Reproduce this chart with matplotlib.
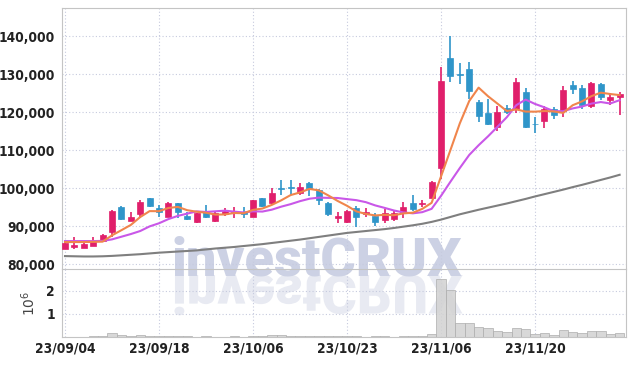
import matplotlib
matplotlib.use("Agg")
import matplotlib.pyplot as plt
import numpy as np
from matplotlib import font_manager
from matplotlib.textpath import TextPath
from matplotlib.font_manager import FontProperties
from matplotlib.patches import PathPatch
from matplotlib.transforms import Affine2D, IdentityTransform
from matplotlib.ticker import FuncFormatter

# daily candles 23/09/04 .. 23/12/01
opens = [84000, 84500, 84300, 84800, 86200, 88500, 95100, 91400, 93100, 97300,
         94800, 92500, 96000, 92600, 91200, 93800, 91400, 93100, 93400, 93800,
         92500, 97300, 96200, 100000, 100200, 98800, 101300, 99500, 96200, 92100,
         91200, 94700, 93100, 92700, 91600, 91800, 93500, 96000, 95700, 97500,
         105400, 134200, 130000, 131300, 122700, 119800, 116050, 121000, 120700, 125300,
         117000, 117700, 120700, 120200, 127100, 126300, 121700, 127400, 123150, 123900]
highs = [85800, 87000, 86100, 87200, 87900, 94200, 95400, 93600, 96900, 97400,
         95500, 96300, 96100, 93800, 93500, 95500, 93900, 94700, 95000, 95100,
         96900, 97500, 99900, 102000, 102100, 101300, 101700, 99700, 96400, 93800,
         94200, 95400, 94800, 93500, 94400, 94000, 96400, 98200, 96900, 101900,
         131900, 140000, 132800, 133200, 123300, 123350, 121600, 121900, 129100, 126400,
         118600, 121600, 121400, 126950, 128300, 127100, 128000, 127600, 125000, 125400]
lows = [83900, 83900, 84200, 84700, 86000, 87200, 91600, 91300, 92200, 95000,
        92500, 92300, 92000, 91600, 90900, 92000, 91200, 92700, 92000, 92000,
        92300, 94900, 95900, 98200, 98100, 98200, 97900, 95600, 92700, 90900,
        90900, 89800, 92500, 90000, 90700, 91300, 92000, 94000, 95000, 97300,
        102300, 127800, 127400, 123350, 117350, 116500, 115100, 119500, 119700, 115700,
        114500, 115700, 118100, 118800, 124800, 120700, 121000, 123150, 122000, 119200]
closes = [85600, 85000, 85400, 85900, 87600, 93900, 91800, 92300, 96300, 95400,
          93800, 96000, 93800, 91900, 93400, 92500, 93500, 94000, 93800, 93100,
          96900, 95300, 98800, 99800, 100000, 100400, 99900, 96900, 93200, 92700,
          94000, 92500, 93600, 91200, 93500, 93500, 94900, 94500, 96200, 101500,
          128200, 129600, 129700, 125600, 119000, 116900, 120100, 119900, 127900, 116200,
          116750, 120700, 119300, 125800, 126200, 121900, 127600, 124000, 124000, 124750]

# volume in millions
volume_m = [0.01, 0.01, 0.02, 0.04, 0.05, 0.16, 0.09, 0.05, 0.09, 0.05,
            0.03, 0.03, 0.03, 0.03, 0.02, 0.04, 0.02, 0.02, 0.04, 0.02,
            0.04, 0.04, 0.09, 0.08, 0.04, 0.04, 0.04, 0.04, 0.04, 0.04,
            0.04, 0.04, 0.02, 0.04, 0.04, 0.02, 0.04, 0.04, 0.04, 0.13,
            2.53, 2.02, 0.60, 0.60, 0.42, 0.38, 0.24, 0.20, 0.38, 0.33,
            0.12, 0.16, 0.08, 0.30, 0.20, 0.16, 0.25, 0.25, 0.12, 0.16]

# moving averages
ma5 = [85800, 85800, 85800, 85850, 85900, 87560, 88920, 90300, 92380, 93940,
       93920, 94760, 95060, 94180, 93780, 93520, 93020, 93060, 93440, 93380,
       94260, 94620, 95580, 96780, 98160, 98860, 99780, 99400, 98080, 96620,
       95340, 93860, 93200, 92800, 92960, 92860, 93340, 93520, 94520, 96120,
       103060, 110000, 117040, 122920, 126440, 124180, 122240, 120280, 120720, 120140,
       120120, 120280, 120180, 119780, 121800, 122820, 124200, 125120, 124760, 124480]
ma10 = [86050, 86050, 86050, 86050, 86100, 86500, 87200, 87900, 88700, 89920,
        90740, 91840, 92680, 93280, 93860, 93720, 93890, 94060, 93810, 93580,
        93890, 93820, 94320, 95110, 95770, 96560, 97200, 97490, 97430, 97390,
        97100, 96820, 96300, 95440, 94790, 94100, 93600, 93360, 93660, 94540,
        97960, 101670, 105280, 108720, 111280, 113620, 116120, 118660, 121820, 123290,
        122150, 121260, 120230, 120250, 120970, 121470, 122240, 122650, 122270, 123140]
ma60 = [82100, 82050, 82000, 82000, 82050, 82150, 82300, 82450, 82600, 82800,
        83000, 83150, 83300, 83450, 83600, 83850, 84100, 84300, 84500, 84750,
        85000, 85250, 85550, 85850, 86150, 86450, 86800, 87150, 87500, 87850,
        88200, 88450, 88700, 88950, 89200, 89500, 89850, 90200, 90600, 91100,
        91700, 92400, 93100, 93700, 94300, 94850, 95400, 95950, 96550, 97150,
        97800, 98400, 99000, 99600, 100250, 100850, 101500, 102150, 102800, 103500]

tick_idx = [0, 10, 20, 30, 40, 50]
tick_labels = ["23/09/04", "23/09/18", "23/10/06", "23/10/23", "23/11/06", "23/11/20"]

RED = "#e01f6b"
BLUE = "#2f95c9"
GRID = "#c6cade"
SPINE = "#c4c4c4"

installed = {f.name for f in font_manager.fontManager.ttflist}
if "Liberation Sans Narrow" in installed:
    plt.rcParams["font.family"] = ["Liberation Sans Narrow", "DejaVu Sans"]
    tick_size = 10.5
else:
    plt.rcParams["font.family"] = ["DejaVu Sans"]
    plt.rcParams["font.stretch"] = "condensed"
    tick_size = 9.8
plt.rcParams["font.weight"] = "bold"

fig = plt.figure(figsize=(6.34, 3.66), dpi=100)
fig.patch.set_facecolor("white")
ax = fig.add_axes([0.0978, 0.2650, 0.8896, 0.7131])
axv = fig.add_axes([0.0978, 0.0792, 0.8896, 0.1858], sharex=ax)

# watermark behind everything
wm_font = FontProperties(family="Roboto", weight="heavy", stretch="normal")
fig.text(172 / 634, 91 / 366, "investCRUX", fontproperties=wm_font, fontsize=39,
         color="#ccd1e4", va="baseline", ha="left", zorder=-2)
wm = TextPath((0, 0), "investCRUX", size=39 * 100 / 72, prop=wm_font)
fig.add_artist(PathPatch(wm, transform=Affine2D().scale(1, -1).translate(172, 91) + IdentityTransform(),
                         facecolor="#e8eaf2", edgecolor="none", zorder=-2))

x = np.arange(len(closes))
o = np.array(opens)
c = np.array(closes)
colors = [RED if cc >= oo else BLUE for oo, cc in zip(o, c)]

ax.vlines(x, lows, highs, colors=colors, lw=1.2, zorder=2)
ax.bar(x, np.abs(c - o), bottom=np.minimum(o, c), width=0.64, color=colors,
       edgecolor=colors, linewidth=0.5, zorder=3)
ax.plot(x, ma60, color="#7f7f7f", lw=1.5, zorder=4)
ax.plot(x, ma10, color="#c957e8", lw=1.5, zorder=4)
ax.plot(x, ma5, color="#f0854c", lw=1.5, zorder=4)

axv.bar(x, volume_m, width=1.0, color="#d2d2d2", edgecolor="#aeaeae", linewidth=0.6,
        alpha=0.85, zorder=2)

for a in (ax, axv):
    a.set_facecolor("none")
    a.set_axisbelow(True)
    a.grid(True, ls=(0, (1, 2)), color=GRID, lw=0.8)
    a.tick_params(length=0, labelsize=tick_size, colors="#222222")
    for s in a.spines.values():
        s.set_color(SPINE)
    a.tick_params(axis="y", pad=5)
    a.tick_params(axis="x", pad=3)

ax.set_xlim(-0.32, 59.68)
ax.set_ylim(78700, 147400)
ax.set_yticks(range(80000, 140001, 10000))
ax.yaxis.set_major_formatter(FuncFormatter(lambda v, p: f"{int(v):,}"))
ax.set_xticks(tick_idx)
ax.tick_params(labelbottom=False)

axv.set_ylim(0, 2.95)
axv.set_yticks([1, 2])
axv.set_yticklabels(["1", "2"])
axv.set_xticks(tick_idx)
axv.set_xticklabels(tick_labels)
axv.spines["top"].set_visible(False)
axv.set_ylabel("$\\mathregular{10^6}$", fontsize=10, color="#444444", fontweight="normal",
               fontstretch="normal")
axv.yaxis.set_label_coords(-0.043, 0.5)

fig.savefig("out.png", dpi=100)
